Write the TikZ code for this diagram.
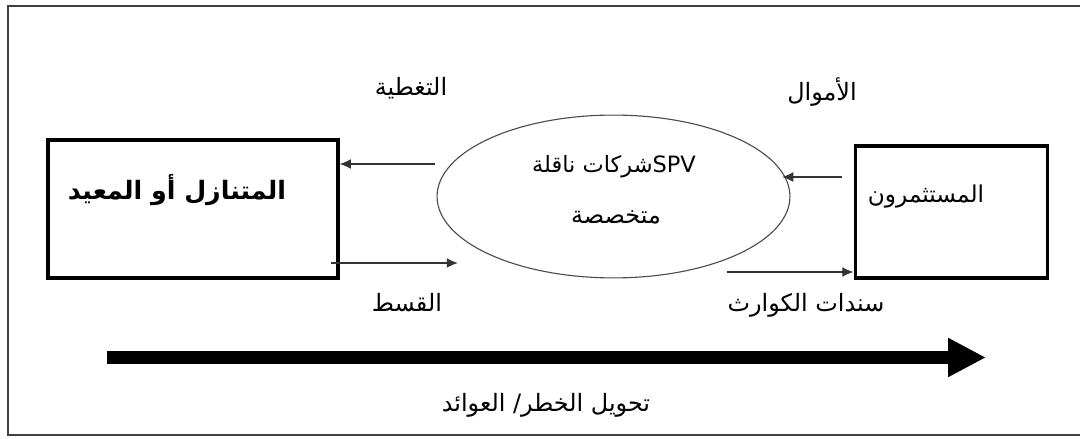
\documentclass[tikz,border=0pt]{standalone}
\usepackage{fontspec}
\newfontfamily\arabicfont[Script=Arabic]{DejaVu Sans}
\TeXXeTstate=1
\usetikzlibrary{shapes.geometric,arrows.meta}

\tikzset{
  partybox/.style={draw, line width=2.2pt, minimum width=#1},
  flow/.style={draw=black!80, line width=1pt, -{Latex[length=8pt,width=7pt]}},
  lbl/.style={font=\arabicfont\fontsize{17}{20}\selectfont, inner sep=0pt}
}

\begin{document}
\begin{tikzpicture}[x=0.025cm, y=-0.025cm]
    \useasboundingbox (0,0) rectangle (1080,439);
    \draw[black!75, line width=1.2pt] (1085,6) -- (8,6) -- (8,435) -- (1085,435);

    \node[partybox=7.25cm, minimum height=3.45cm] (lbox) at (193,209) {};
    \node[partybox=4.82cm, minimum height=3.3cm] (rbox) at (951.5,212) {};
    \node[draw=black!70, line width=0.8pt, ellipse, minimum width=8.82cm,
      minimum height=4.07cm] (spv) at (613.5,196.5) {};

    \node[lbl, font=\arabicfont\bfseries\fontsize{18}{20}\selectfont] (lname) at (177,190)
      {\beginR المتنازل أو المعيد\endR};
    \node[lbl, font=\arabicfont\fontsize{16.5}{18}\selectfont] (rname) at (926,197)
      {\beginR المستثمرون\endR};
    \node[lbl, font=\arabicfont\fontsize{16}{18}\selectfont] (spvone) at (614,167)
      {\beginR\beginL SPV\endL شركات ناقلة\endR};
    \node[lbl] (spvtwo) at (616,217) {\beginR متخصصة\endR};

    % flows between the parties
    \coordinate (a1) at (435,164);
    \coordinate (a2) at (458,263);
    \coordinate (a3) at (842,177);
    \coordinate (a3e) at (782,177);
    \coordinate (a4) at (727,272);
    \draw[flow] (a1) -- (lbox.east |- a1);
    \draw[flow] ([xshift=-6]lbox.east |- a2) -- (a2);
    \draw[flow] (a3) -- (a3e);
    \draw[flow] (a4) -- (rbox.west |- a4);

    \node[lbl] (cover) at (411,88) {\beginR التغطية\endR};
    \node[lbl] (prem) at (407,303) {\beginR القسط\endR};
    \node[lbl] (funds) at (822,92) {\beginR الأموال\endR};
    \node[lbl] (bonds) at (806,305) {\beginR سندات الكوارث\endR};

    % risk transfer
    \coordinate (r0) at (107,357.5);
    \coordinate (r1) at (986,357.5);
    \draw[line width=9pt, -{Triangle[length=27pt,width=26pt]}] (r0) -- (r1);
    \node[lbl] (risk) at (546,405) {\beginR تحويل الخطر/ العوائد\endR};
\end{tikzpicture}
\end{document}
